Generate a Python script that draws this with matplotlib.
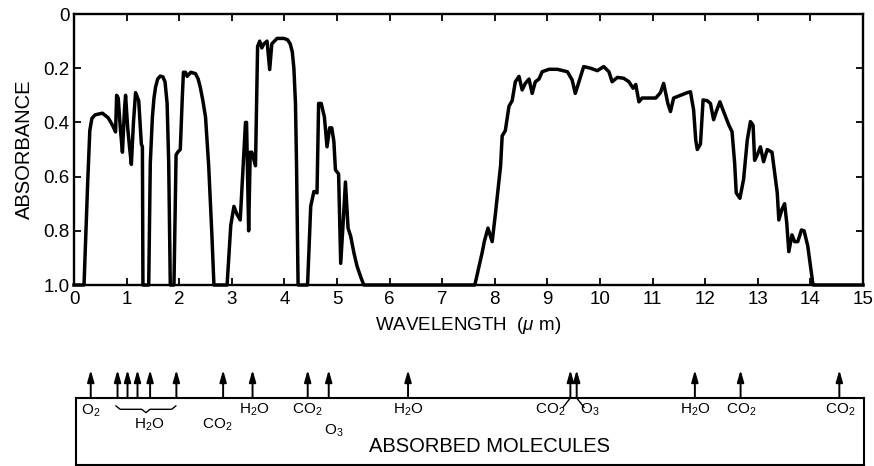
import matplotlib
matplotlib.use("Agg")
import matplotlib.pyplot as plt
from matplotlib.transforms import blended_transform_factory

plt.rcParams['font.family'] = ['Liberation Sans', 'DejaVu Sans']
plt.rcParams['mathtext.fontset'] = 'custom'
plt.rcParams['mathtext.rm'] = 'Liberation Sans'
plt.rcParams['mathtext.it'] = 'Liberation Sans:italic'

# absorbance spectrum of the atmosphere
wavelength = [0.0, 0.19, 0.26, 0.30, 0.34, 0.40, 0.54, 0.65, 0.73, 0.79, 0.81, 0.84, 0.88, 0.92, 0.96, 0.98,
	1.02, 1.06, 1.09, 1.13, 1.17, 1.23, 1.28, 1.30, 1.31, 1.42, 1.45, 1.49, 1.52, 1.55, 1.59, 1.64,
	1.69, 1.73, 1.77, 1.80, 1.83, 1.90, 1.94, 1.97, 2.02, 2.06, 2.08, 2.12, 2.15, 2.22, 2.31, 2.36,
	2.40, 2.45, 2.50, 2.56, 2.62, 2.66, 2.91, 2.98, 3.04, 3.10, 3.16, 3.22, 3.26, 3.28, 3.30, 3.32, 3.35,
	3.38, 3.45, 3.49, 3.53, 3.57, 3.61, 3.67, 3.72, 3.76, 3.86, 3.99, 4.06, 4.11, 4.15, 4.18, 4.21, 4.23, 4.26,
	4.44, 4.50, 4.56, 4.62, 4.65, 4.70, 4.76, 4.81, 4.86, 4.90, 4.94, 4.97, 5.03, 5.07, 5.12,
	5.16, 5.21, 5.26, 5.32, 5.38, 5.45, 5.51, 7.62, 7.76, 7.80, 7.87, 7.95, 8.01, 8.11, 8.14, 8.20,
	8.27, 8.33, 8.39, 8.46, 8.52, 8.58, 8.65, 8.71, 8.77, 8.84, 8.90, 9.03, 9.19, 9.38, 9.47,
	9.53, 9.60, 9.69, 9.82, 9.95, 10.07, 10.17, 10.23, 10.33, 10.45, 10.55, 10.63, 10.68, 10.74,
	10.80, 11.06, 11.15, 11.21, 11.29, 11.34, 11.40, 11.53, 11.66, 11.72, 11.78, 11.82, 11.85,
	11.91, 11.96, 12.04, 12.10, 12.16, 12.21, 12.28, 12.35, 12.45, 12.51, 12.56, 12.59, 12.66,
	12.73, 12.80, 12.86, 12.91, 12.94, 12.99, 13.05, 13.11, 13.18, 13.27, 13.37, 13.40, 13.46,
	13.51, 13.55, 13.59, 13.65, 13.70, 13.76, 13.83, 13.88, 13.95, 14.05, 15.0]
absorbance = [1.0, 1.0, 0.62, 0.43, 0.385, 0.372, 0.366, 0.383, 0.41, 0.435, 0.30, 0.31, 0.42, 0.51, 0.35, 0.30,
	0.42, 0.50, 0.555, 0.40, 0.29, 0.32, 0.48, 0.49, 1.0, 1.0, 0.55, 0.38, 0.31, 0.27, 0.24, 0.229,
	0.232, 0.25, 0.33, 0.55, 1.0, 1.0, 0.52, 0.51, 0.50, 0.30, 0.215, 0.215, 0.23, 0.215, 0.22, 0.24,
	0.27, 0.32, 0.38, 0.56, 0.81, 1.0, 1.0, 0.78, 0.71, 0.74, 0.76, 0.54, 0.40, 0.40, 0.60, 0.80, 0.51,
	0.51, 0.56, 0.12, 0.10, 0.125, 0.11, 0.10, 0.205, 0.11, 0.09, 0.09, 0.095, 0.11, 0.14, 0.20, 0.33, 0.55, 1.0,
	1.0, 0.71, 0.655, 0.66, 0.33, 0.33, 0.38, 0.49, 0.42, 0.42, 0.47, 0.575, 0.59, 0.92, 0.76,
	0.62, 0.79, 0.82, 0.88, 0.93, 0.97, 1.0, 1.0, 0.88, 0.84, 0.79, 0.84, 0.74, 0.56, 0.45, 0.43,
	0.34, 0.32, 0.25, 0.23, 0.28, 0.256, 0.24, 0.293, 0.25, 0.24, 0.213, 0.204, 0.204, 0.213, 0.243,
	0.293, 0.25, 0.194, 0.20, 0.209, 0.194, 0.213, 0.25, 0.234, 0.237, 0.25, 0.274, 0.26, 0.324,
	0.31, 0.31, 0.29, 0.256, 0.33, 0.36, 0.31, 0.30, 0.29, 0.287, 0.354, 0.465, 0.50,
	0.48, 0.317, 0.32, 0.33, 0.39, 0.36, 0.324, 0.36, 0.41, 0.434, 0.55, 0.66, 0.68,
	0.61, 0.465, 0.397, 0.41, 0.54, 0.52, 0.49, 0.545, 0.50, 0.51, 0.66, 0.76, 0.72,
	0.70, 0.77, 0.877, 0.815, 0.84, 0.84, 0.797, 0.80, 0.856, 1.0, 1.0]

x_ticks = list(range(0, 16))
y_ticks = [0, 0.2, 0.4, 0.6, 0.8, 1.0]
y_tick_labels = ['0', '0.2', '0.4', '0.6', '0.8', '1.0']

# absorbed molecules: arrow positions (um) and labels (x, height in box, text)
arrow_x = [0.28, 0.79, 0.98, 1.17, 1.41, 1.91, 2.80, 3.36, 4.41, 4.81, 6.32, 9.41, 9.53, 11.78, 12.65, 14.53]
mol_labels = [
	(0.27, 0.80, 'O$_2$'),
	(1.39, 0.60, 'H$_2$O'),
	(2.69, 0.60, 'CO$_2$'),
	(3.39, 0.82, 'H$_2$O'),
	(4.40, 0.82, 'CO$_2$'),
	(4.90, 0.50, 'O$_3$'),
	(6.32, 0.82, 'H$_2$O'),
	(9.03, 0.82, 'CO$_2$'),
	(9.78, 0.82, 'O$_3$'),
	(11.78, 0.82, 'H$_2$O'),
	(12.67, 0.82, 'CO$_2$'),
	(14.54, 0.82, 'CO$_2$'),
]
brace_span = (0.76, 1.90)

fig = plt.figure(figsize=(8.74, 4.66), dpi=100)

#main spectrum panel
ax = fig.add_axes([0.0847, 0.3884, 0.9027, 0.5815])
ax.plot(wavelength, absorbance, color='black', lw=2.5, solid_joinstyle='round', clip_on=False)
ax.set_xlim(0, 15)
ax.set_ylim(1.0, 0)
ax.set_xticks(x_ticks)
ax.set_yticks(y_ticks)
ax.set_yticklabels(y_tick_labels)
ax.tick_params(direction='in', top=True, right=True, length=5, width=1.3, labelsize=13.5)
ax.tick_params(axis='y', pad=3)
ax.tick_params(axis='x', pad=4)
for s in ax.spines.values():
	s.set_linewidth(1.7)
ax.set_xlabel('WAVELENGTH  ($\\mu$ m)', fontsize=13.5, labelpad=5)
ax.set_ylabel('ABSORBANCE', fontsize=14.5, labelpad=7)

#absorbed molecules box
ax2 = fig.add_axes([0.0870, 0.0030, 0.9016, 0.1430])
ax2.set_xlim(0, 15)
ax2.set_ylim(0, 1)
ax2.set_xticks([])
ax2.set_yticks([])
for s in ax2.spines.values():
	s.set_linewidth(1.5)
trans = blended_transform_factory(ax2.transData, ax2.transAxes)

for x in arrow_x:
	ax2.annotate('', xy=(x, 1.42), xytext=(x, 1.0), xycoords=trans, textcoords=trans,
		arrowprops=dict(arrowstyle='-|>,head_length=0.7,head_width=0.2', lw=1.4, color='black',
			shrinkA=0, shrinkB=0), annotation_clip=False)

for x, y, t in mol_labels:
	ax2.text(x, y, t, transform=trans, ha='center', va='center', fontsize=11)

# little leader lines for the CO2 / O3 pair near 9.5 um
ax2.plot([arrow_x[11], arrow_x[11] - 0.14], [1.0, 0.86], transform=trans, color='black', lw=1.0, clip_on=False)
ax2.plot([arrow_x[12], arrow_x[12] + 0.14], [1.0, 0.86], transform=trans, color='black', lw=1.0, clip_on=False)

# brace under the water arrows
x0, x1 = brace_span
xm = (x0 + x1) / 2
bx = [x0, x0 + 0.08, xm - 0.08, xm, xm + 0.08, x1 - 0.08, x1]
by = [0.88, 0.83, 0.83, 0.78, 0.83, 0.83, 0.88]
ax2.plot(bx, by, transform=trans, color='black', lw=1.0)

ax2.text(7.87, 0.27, 'ABSORBED MOLECULES', transform=trans, ha='center', va='center', fontsize=14.5)

fig.savefig('out.png', dpi=100)
